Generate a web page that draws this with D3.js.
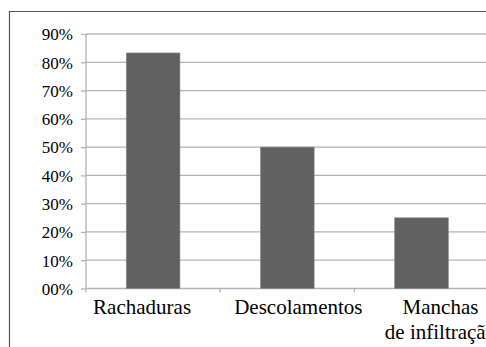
<!DOCTYPE html>
<html>
<head>
<meta charset="utf-8">
<script src="https://cdn.jsdelivr.net/npm/d3@7"></script>
<style>
  html, body { margin: 0; padding: 0; background: #fff; overflow: hidden; }
  svg { display: block; }
  text { font-family: "Liberation Serif", "Times New Roman", serif; fill: #000; }
</style>
</head>
<body>
<svg id="chart" width="486" height="347"></svg>
<script>
// Problemas observados (fração das edificações)
const categories = ["Rachaduras", "Descolamentos", "Manchas de infiltração"];
const categoryLines = [["Rachaduras"], ["Descolamentos"], ["Manchas", "de infiltração"]];
const values = [0.833, 0.50, 0.25];
const yTicks = [0, 0.1, 0.2, 0.3, 0.4, 0.5, 0.6, 0.7, 0.8, 0.9];
const yTickLabels = ["00%", "10%", "20%", "30%", "40%", "50%", "60%", "70%", "80%", "90%"];

const svg = d3.select("#chart");
const W = 486, H = 347;

const plot = { left: 86, top: 34, bottom: 288.5, right: 488.6 };

const x = d3.scaleBand()
  .domain(categories)
  .range([plot.left, plot.right])
  .paddingInner(0.6)
  .paddingOuter(0.3);

const y = d3.scaleLinear()
  .domain([0, 0.9])
  .range([plot.bottom, plot.top]);

// outer frame (only top and left edges fall inside the view)
svg.append("path")
  .attr("d", `M9.5,${H} L9.5,11.5 L${W},11.5`)
  .attr("fill", "none")
  .attr("stroke", "#555")
  .attr("stroke-width", 1.2);

// horizontal gridlines
svg.append("g")
  .attr("class", "grid")
  .selectAll("line")
  .data(yTicks)
  .join("line")
  .attr("x1", plot.left)
  .attr("x2", W)
  .attr("y1", d => y(d))
  .attr("y2", d => y(d))
  .attr("stroke", "#b4b4b4")
  .attr("stroke-width", 1.3);

// y axis with short outside ticks
const yAxis = d3.axisLeft(y)
  .tickValues(yTicks)
  .tickSize(5)
  .tickFormat((d, i) => yTickLabels[i]);

const gy = svg.append("g")
  .attr("transform", `translate(${plot.left},0)`)
  .call(yAxis);
gy.select(".domain").remove();
gy.selectAll(".tick line").attr("stroke", "#b4b4b4").attr("stroke-width", 1.3);
gy.selectAll(".tick text")
  .attr("x", -13)
  .style("font-size", "17px")
  .style("font-family", '"Liberation Serif", serif')
  .attr("dy", "0.34em");

// vertical axis line
svg.append("line")
  .attr("x1", plot.left).attr("x2", plot.left)
  .attr("y1", plot.top).attr("y2", plot.bottom + 4)
  .attr("stroke", "#b4b4b4")
  .attr("stroke-width", 1.3);

// category boundary ticks below the baseline
const step = x.step();
const boundaries = categories.slice(1).map(c => x(c) - x.paddingInner() * step / 2);
svg.append("g")
  .selectAll("line")
  .data(boundaries)
  .join("line")
  .attr("x1", d => d).attr("x2", d => d)
  .attr("y1", plot.bottom).attr("y2", plot.bottom + 4)
  .attr("stroke", "#b4b4b4")
  .attr("stroke-width", 1.3);

// bars
svg.append("g")
  .selectAll("rect")
  .data(values)
  .join("rect")
  .attr("x", (d, i) => x(categories[i]))
  .attr("width", x.bandwidth())
  .attr("y", d => y(d))
  .attr("height", d => y(0) - y(d))
  .attr("fill", "#616161")
  .attr("stroke", "#8a8a8a")
  .attr("stroke-width", 0.6);

// category labels
const labelShift = [-11, 11, 19];
const lab = svg.append("g")
  .selectAll("text")
  .data(categoryLines)
  .join("text")
  .attr("text-anchor", "middle")
  .style("font-size", "21px")
  .attr("transform", (d, i) => `translate(${x(categories[i]) + x.bandwidth() / 2 + labelShift[i]},314)`);
lab.selectAll("tspan")
  .data(d => d)
  .join("tspan")
  .attr("x", 0)
  .attr("dy", (d, j) => j === 0 ? 0 : 25)
  .text(d => d);
</script>
</body>
</html>
